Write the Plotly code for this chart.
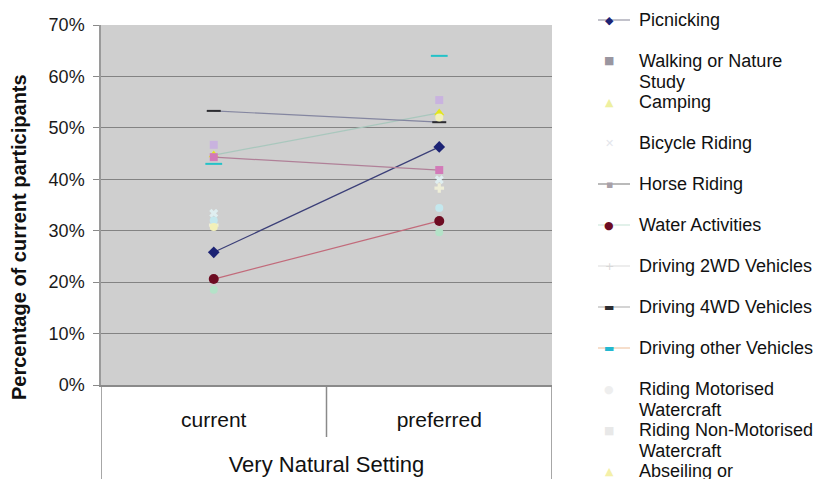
import plotly.graph_objects as go

categories = ["current", "preferred"]
group_label = "Very Natural Setting"
y_title = "Percentage of current participants"

series_names = [
    "Picnicking",
    "Walking or Nature\nStudy",
    "Camping",
    "Bicycle Riding",
    "Horse Riding",
    "Water Activities",
    "Driving 2WD Vehicles",
    "Driving 4WD Vehicles",
    "Driving other Vehicles",
    "Riding Motorised\nWatercraft",
    "Riding Non-Motorised\nWatercraft",
    "Abseiling or\nRock Climbing",
]

picnicking = [25.8, 46.3]
walking = [46.7, 55.4]
camping = [44.7, 52.9]
bicycle = [33.4, 39.9]
horse = [44.3, 41.8]
water = [20.6, 31.9]
drive_2wd = [31.1, 38.3]
drive_4wd = [53.3, 51.1]
drive_other = [43.0, 64.0]
motor_water = [18.5, 29.7]
nonmotor_water = [32.0, 34.4]
abseiling = [30.7, 52.0]

values = [picnicking, walking, camping, bicycle, horse, water, drive_2wd,
          drive_4wd, drive_other, motor_water, nonmotor_water, abseiling]

y_tick_values = [0, 10, 20, 30, 40, 50, 60, 70]
y_tick_labels = ["0%", "10%", "20%", "30%", "40%", "50%", "60%", "70%"]

# styles: (mode, marker symbol, marker color, marker size, line color, legend glyph, glyph color, legend line color)
styles = [
    ("lines+markers", "diamond", "#1c2374", 9, "#3b3f78", "◆", "#1c2374", "#9a9aa8"),
    ("markers", "square", "#c9b3df", 8, None, "■", "#9a96a0", None),
    ("lines+markers", "triangle-up", "#e3e61c", 9, "#a9c7bd", "▲", "#eef0a0", None),
    ("markers", "x", "#dfeef0", 8, None, "✕", "#e4e6ec", None),
    ("lines+markers", "square", "#d27ab8", 8, "#b08098", "▪", "#a8a0a8", "#8c8c8c"),
    ("lines+markers", "circle", "#6d0c22", 10, "#c26a7a", "●", "#6d0c22", "#cfe8dc"),
    ("markers", "cross", "#eeeed8", 8, None, "+", "#d8d8d8", "#e2e2e2"),
    ("lines+markers", "line-ew-open", "#2c2c30", 10, "#8486a0", "▬", "#2c2c30", "#b8b8b8"),
    ("markers", "line-ew-open", "#23c2c8", 12, None, "▬", "#23b8d0", "#f0c8a8"),
    ("markers", "circle", "#b4e2c8", 8, None, "●", "#eeeeee", None),
    ("markers", "circle", "#c4e8ee", 8, None, "■", "#e8e8e8", None),
    ("markers", "circle", "#f2f0b8", 8, None, "▲", "#f4f0a8", None),
]

fig = go.Figure()
for name, vals, st in zip(series_names, values, styles):
    mode, sym, mcol, msize, lcol, _, _, _ = st
    tr = dict(x=categories, y=vals, name=name.replace("\n", " "), mode=mode,
              marker=dict(symbol=sym, color=mcol, size=msize,
                          line=dict(color=mcol, width=2 if "open" in sym else 0)),
              showlegend=False)
    if lcol:
        tr["line"] = dict(color=lcol, width=1.2)
    fig.add_trace(go.Scatter(**tr))

# plot geometry in pixels (for legend/box placement)
L, R, T, B = 101, 552, 25, 385
W, H = 819, 479
pw, ph = R - L, B - T


def px_x(x):
    return (x - L) / pw


def px_y(y):
    return (B - y) / ph


shapes = []
annotations = []
# category box under plot
box_col = "#8a8a8a"
shapes.append(dict(type="line", xref="x", yref="paper", x0=-0.5, x1=-0.5,
                   y0=0, y1=px_y(H + 5), line=dict(color=box_col, width=1.5)))
shapes.append(dict(type="line", xref="x", yref="paper", x0=1.5, x1=1.5,
                   y0=0, y1=px_y(H + 5), line=dict(color=box_col, width=1.5)))
shapes.append(dict(type="line", xref="x", yref="paper", x0=0.5, x1=0.5,
                   y0=0, y1=px_y(437), line=dict(color=box_col, width=1.5)))

# y-axis title
annotations.append(dict(xref="paper", yref="paper", x=px_x(19), y=px_y(237),
                        text="<b>" + y_title + "</b>", textangle=-90, showarrow=False,
                        xanchor="center", yanchor="middle",
                        font=dict(family="Liberation Sans, Arial, sans-serif", size=20, color="#111111")))

# manual legend (Excel style)
leg_font = dict(family="Liberation Sans, Arial, sans-serif", size=18, color="#111111")
for i, (name, st) in enumerate(zip(series_names, styles)):
    y0 = 20 + 41.0 * i
    glyph, gcol, llcol = st[5], st[6], st[7]
    if llcol:
        shapes.append(dict(type="line", xref="paper", yref="paper",
                           x0=px_x(598), x1=px_x(630), y0=px_y(y0), y1=px_y(y0),
                           line=dict(color=llcol, width=1.2)))
    annotations.append(dict(xref="paper", yref="paper", x=px_x(609), y=px_y(y0),
                            text=glyph, showarrow=False, xanchor="center", yanchor="middle",
                            font=dict(family="DejaVu Sans", size=11, color=gcol)))
    for j, line in enumerate(name.split("\n")):
        annotations.append(dict(xref="paper", yref="paper", x=px_x(637), y=px_y(y0 + 20.5 * j),
                                text=line, showarrow=False, xanchor="left", yanchor="middle",
                                font=leg_font))

fig.update_layout(
    width=W, height=H,
    margin=dict(l=L, r=W - R, t=T, b=H - B, autoexpand=False),
    paper_bgcolor="white",
    plot_bgcolor="#cfcfcf",
    showlegend=False,
    font=dict(family="Liberation Sans, Arial, sans-serif", color="#111111"),
    shapes=shapes,
    annotations=annotations,
    xaxis=dict(
        type="category", categoryorder="array", categoryarray=categories,
        range=[-0.5, 1.5], showgrid=False, ticks="", zeroline=False,
        showline=True, linecolor=box_col, linewidth=1.5, mirror=False,
        tickfont=dict(size=21, color="#111111"), ticklabelstandoff=15,
        title=dict(text=group_label, font=dict(size=22, color="#111111"), standoff=27),
    ),
    yaxis=dict(
        range=[0, 70], tickvals=y_tick_values, ticktext=y_tick_labels,
        showgrid=True, gridcolor="#838383", gridwidth=1.4,
        ticks="outside", ticklen=6, tickcolor="#8a8a8a", ticklabelstandoff=5,
        showline=True, linecolor="#9a9a9a", linewidth=1.5, zeroline=False,
        tickfont=dict(size=18, color="#1a1a1a"),
    ),
)

fig.write_html("out.html", post_script="document.body.style.margin='0';",
               config={"displayModeBar": False})
